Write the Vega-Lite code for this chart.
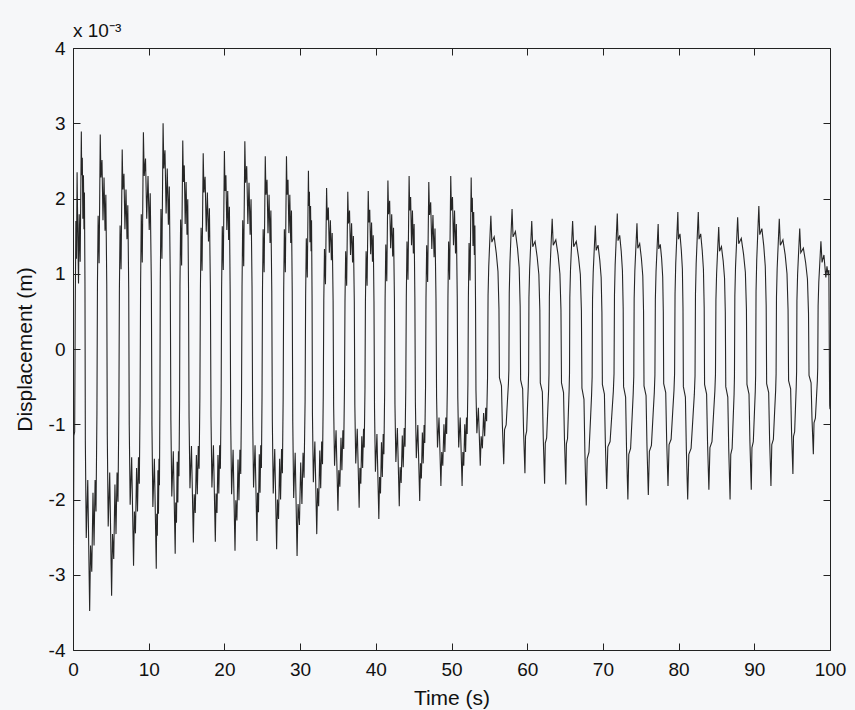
{
  "$schema": "https://vega.github.io/schema/vega-lite/v6.json",
  "width": 757,
  "height": 602,
  "autosize": {"type": "none"},
  "padding": {"left": 73, "top": 48, "right": 25, "bottom": 60},
  "background": "#f6f7f9",
  "title": {"text": "x 10⁻³", "anchor": "start", "frame": "group", "offset": -2, "fontSize": 19, "fontWeight": "normal", "font": "Liberation Sans", "color": "#111111"},
  "config": {
    "view": {"stroke": null},
    "axis": {"domainColor": "#222222", "domainWidth": 1, "tickColor": "#222222", "tickWidth": 1, "tickSize": -7, "grid": false, "labelFont": "Liberation Sans", "labelFontSize": 19, "labelColor": "#111111", "titleFont": "Liberation Sans", "titleFontSize": 21, "titleFontWeight": "normal", "titleColor": "#111111"}
  },
  "data": {"values": [
{"t":0,"d":1.6e-3},{"t":0.04,"d":-3.23e-3},{"t":0.12,"d":-1.15e-3},{"t":0.22,"d":-1.1e-3},{"t":0.3,"d":0.6e-3},{"t":0.38,"d":1.7e-3},{"t":0.46,"d":1.2e-3},{"t":0.54,"d":2.35e-3},{"t":0.62,"d":1.65e-3},
{"t":0.73,"d":0.87e-3},{"t":0.82,"d":1.79e-3},{"t":0.95,"d":1.16e-3},{"t":1.1,"d":2.89e-3},{"t":1.15,"d":2.31e-3},{"t":1.23,"d":2.54e-3},{"t":1.3,"d":1.73e-3},{"t":1.38,"d":2.31e-3},{"t":1.45,"d":1.59e-3},{"t":1.51,"d":2.08e-3},{"t":1.58,"d":0.87e-3},
{"t":1.63,"d":-1.22e-3},{"t":1.75,"d":-2.51e-3},{"t":1.95,"d":-1.74e-3},{"t":2.2,"d":-3.48e-3},{"t":2.32,"d":-2.61e-3},{"t":2.48,"d":-2.96e-3},{"t":2.64,"d":-1.91e-3},{"t":2.78,"d":-2.61e-3},{"t":2.92,"d":-1.74e-3},{"t":3.04,"d":-2.16e-3},{"t":3.16,"d":-0.87e-3},
{"t":3.23,"d":0.86e-3},{"t":3.32,"d":1.77e-3},{"t":3.45,"d":1.14e-3},{"t":3.6,"d":2.85e-3},{"t":3.69,"d":2.28e-3},{"t":3.83,"d":2.51e-3},{"t":3.96,"d":1.71e-3},{"t":4.1,"d":2.28e-3},{"t":4.23,"d":1.57e-3},{"t":4.34,"d":2.05e-3},{"t":4.46,"d":0.86e-3},
{"t":4.53,"d":-1.15e-3},{"t":4.65,"d":-2.36e-3},{"t":4.85,"d":-1.64e-3},{"t":5.1,"d":-3.28e-3},{"t":5.22,"d":-2.46e-3},{"t":5.38,"d":-2.79e-3},{"t":5.54,"d":-1.8e-3},{"t":5.68,"d":-2.46e-3},{"t":5.82,"d":-1.64e-3},{"t":5.94,"d":-2.03e-3},{"t":6.06,"d":-0.82e-3},
{"t":6.13,"d":0.8e-3},{"t":6.22,"d":1.64e-3},{"t":6.35,"d":1.06e-3},{"t":6.5,"d":2.65e-3},{"t":6.59,"d":2.12e-3},{"t":6.73,"d":2.33e-3},{"t":6.86,"d":1.59e-3},{"t":7.0,"d":2.12e-3},{"t":7.13,"d":1.46e-3},{"t":7.24,"d":1.91e-3},{"t":7.36,"d":0.8e-3},
{"t":7.43,"d":-1.01e-3},{"t":7.55,"d":-2.07e-3},{"t":7.75,"d":-1.44e-3},{"t":8.0,"d":-2.88e-3},{"t":8.11,"d":-2.16e-3},{"t":8.25,"d":-2.45e-3},{"t":8.4,"d":-1.58e-3},{"t":8.52,"d":-2.16e-3},{"t":8.65,"d":-1.44e-3},{"t":8.76,"d":-1.79e-3},{"t":8.86,"d":-0.72e-3},
{"t":8.93,"d":0.86e-3},{"t":9.02,"d":1.79e-3},{"t":9.15,"d":1.15e-3},{"t":9.3,"d":2.88e-3},{"t":9.41,"d":2.3e-3},{"t":9.58,"d":2.53e-3},{"t":9.74,"d":1.73e-3},{"t":9.91,"d":2.3e-3},{"t":10.07,"d":1.58e-3},{"t":10.2,"d":2.07e-3},{"t":10.35,"d":0.86e-3},
{"t":10.43,"d":-1.02e-3},{"t":10.55,"d":-2.1e-3},{"t":10.75,"d":-1.46e-3},{"t":11.0,"d":-2.92e-3},{"t":11.06,"d":-2.19e-3},{"t":11.14,"d":-2.48e-3},{"t":11.22,"d":-1.61e-3},{"t":11.29,"d":-2.19e-3},{"t":11.36,"d":-1.46e-3},{"t":11.42,"d":-1.81e-3},{"t":11.48,"d":-0.73e-3},
{"t":11.53,"d":0.9e-3},{"t":11.62,"d":1.86e-3},{"t":11.75,"d":1.2e-3},{"t":11.9,"d":3.0e-3},{"t":12.0,"d":2.4e-3},{"t":12.15,"d":2.64e-3},{"t":12.3,"d":1.8e-3},{"t":12.45,"d":2.4e-3},{"t":12.6,"d":1.65e-3},{"t":12.72,"d":2.16e-3},{"t":12.85,"d":0.9e-3},
{"t":12.93,"d":-0.95e-3},{"t":13.05,"d":-1.96e-3},{"t":13.25,"d":-1.36e-3},{"t":13.5,"d":-2.72e-3},{"t":13.57,"d":-2.04e-3},{"t":13.67,"d":-2.31e-3},{"t":13.76,"d":-1.5e-3},{"t":13.85,"d":-2.04e-3},{"t":13.93,"d":-1.36e-3},{"t":14.0,"d":-1.69e-3},{"t":14.08,"d":-0.68e-3},
{"t":14.13,"d":0.83e-3},{"t":14.22,"d":1.72e-3},{"t":14.35,"d":1.11e-3},{"t":14.5,"d":2.77e-3},{"t":14.58,"d":2.22e-3},{"t":14.7,"d":2.44e-3},{"t":14.82,"d":1.66e-3},{"t":14.94,"d":2.22e-3},{"t":15.06,"d":1.52e-3},{"t":15.16,"d":1.99e-3},{"t":15.26,"d":0.83e-3},
{"t":15.33,"d":-0.9e-3},{"t":15.45,"d":-1.85e-3},{"t":15.65,"d":-1.29e-3},{"t":15.9,"d":-2.57e-3},{"t":16.01,"d":-1.93e-3},{"t":16.15,"d":-2.18e-3},{"t":16.3,"d":-1.41e-3},{"t":16.42,"d":-1.93e-3},{"t":16.55,"d":-1.29e-3},{"t":16.66,"d":-1.59e-3},{"t":16.76,"d":-0.64e-3},
{"t":16.83,"d":0.78e-3},{"t":16.92,"d":1.61e-3},{"t":17.05,"d":1.04e-3},{"t":17.2,"d":2.6e-3},{"t":17.3,"d":2.08e-3},{"t":17.45,"d":2.29e-3},{"t":17.6,"d":1.56e-3},{"t":17.75,"d":2.08e-3},{"t":17.9,"d":1.43e-3},{"t":18.02,"d":1.87e-3},{"t":18.15,"d":0.78e-3},
{"t":18.23,"d":-0.9e-3},{"t":18.35,"d":-1.84e-3},{"t":18.55,"d":-1.28e-3},{"t":18.8,"d":-2.56e-3},{"t":18.9,"d":-1.92e-3},{"t":19.02,"d":-2.18e-3},{"t":19.15,"d":-1.41e-3},{"t":19.26,"d":-1.92e-3},{"t":19.38,"d":-1.28e-3},{"t":19.47,"d":-1.59e-3},{"t":19.57,"d":-0.64e-3},
{"t":19.63,"d":0.79e-3},{"t":19.72,"d":1.63e-3},{"t":19.85,"d":1.05e-3},{"t":20.0,"d":2.63e-3},{"t":20.08,"d":2.1e-3},{"t":20.2,"d":2.31e-3},{"t":20.32,"d":1.58e-3},{"t":20.44,"d":2.1e-3},{"t":20.56,"d":1.45e-3},{"t":20.66,"d":1.89e-3},{"t":20.76,"d":0.79e-3},
{"t":20.83,"d":-0.94e-3},{"t":20.95,"d":-1.93e-3},{"t":21.15,"d":-1.34e-3},{"t":21.4,"d":-2.68e-3},{"t":21.51,"d":-2.01e-3},{"t":21.65,"d":-2.28e-3},{"t":21.8,"d":-1.47e-3},{"t":21.92,"d":-2.01e-3},{"t":22.05,"d":-1.34e-3},{"t":22.16,"d":-1.66e-3},{"t":22.26,"d":-0.67e-3},
{"t":22.33,"d":0.83e-3},{"t":22.42,"d":1.71e-3},{"t":22.55,"d":1.1e-3},{"t":22.7,"d":2.76e-3},{"t":22.8,"d":2.21e-3},{"t":22.95,"d":2.43e-3},{"t":23.1,"d":1.66e-3},{"t":23.25,"d":2.21e-3},{"t":23.4,"d":1.52e-3},{"t":23.52,"d":1.99e-3},{"t":23.65,"d":0.83e-3},
{"t":23.73,"d":-0.89e-3},{"t":23.85,"d":-1.84e-3},{"t":24.05,"d":-1.28e-3},{"t":24.3,"d":-2.55e-3},{"t":24.38,"d":-1.91e-3},{"t":24.5,"d":-2.17e-3},{"t":24.61,"d":-1.4e-3},{"t":24.71,"d":-1.91e-3},{"t":24.8,"d":-1.28e-3},{"t":24.89,"d":-1.58e-3},{"t":24.97,"d":-0.64e-3},
{"t":25.03,"d":0.77e-3},{"t":25.12,"d":1.59e-3},{"t":25.25,"d":1.02e-3},{"t":25.4,"d":2.56e-3},{"t":25.49,"d":2.05e-3},{"t":25.63,"d":2.25e-3},{"t":25.76,"d":1.54e-3},{"t":25.9,"d":2.05e-3},{"t":26.03,"d":1.41e-3},{"t":26.14,"d":1.84e-3},{"t":26.26,"d":0.77e-3},
{"t":26.33,"d":-0.93e-3},{"t":26.45,"d":-1.92e-3},{"t":26.65,"d":-1.33e-3},{"t":26.9,"d":-2.66e-3},{"t":27.01,"d":-2.0e-3},{"t":27.15,"d":-2.26e-3},{"t":27.3,"d":-1.46e-3},{"t":27.42,"d":-2.0e-3},{"t":27.55,"d":-1.33e-3},{"t":27.66,"d":-1.65e-3},{"t":27.76,"d":-0.67e-3},
{"t":27.83,"d":0.77e-3},{"t":27.92,"d":1.59e-3},{"t":28.05,"d":1.02e-3},{"t":28.2,"d":2.56e-3},{"t":28.28,"d":2.05e-3},{"t":28.4,"d":2.25e-3},{"t":28.52,"d":1.54e-3},{"t":28.64,"d":2.05e-3},{"t":28.76,"d":1.41e-3},{"t":28.86,"d":1.84e-3},{"t":28.96,"d":0.77e-3},
{"t":29.03,"d":-0.96e-3},{"t":29.15,"d":-1.98e-3},{"t":29.35,"d":-1.38e-3},{"t":29.6,"d":-2.75e-3},{"t":29.73,"d":-2.06e-3},{"t":29.91,"d":-2.34e-3},{"t":30.08,"d":-1.51e-3},{"t":30.24,"d":-2.06e-3},{"t":30.39,"d":-1.38e-3},{"t":30.52,"d":-1.71e-3},{"t":30.66,"d":-0.69e-3},
{"t":30.73,"d":0.71e-3},{"t":30.82,"d":1.47e-3},{"t":30.95,"d":0.95e-3},{"t":31.1,"d":2.37e-3},{"t":31.15,"d":1.9e-3},{"t":31.23,"d":2.09e-3},{"t":31.3,"d":1.42e-3},{"t":31.38,"d":1.9e-3},{"t":31.45,"d":1.3e-3},{"t":31.51,"d":1.71e-3},{"t":31.58,"d":0.71e-3},
{"t":31.63,"d":-0.86e-3},{"t":31.75,"d":-1.77e-3},{"t":31.95,"d":-1.23e-3},{"t":32.2,"d":-2.46e-3},{"t":32.31,"d":-1.85e-3},{"t":32.45,"d":-2.09e-3},{"t":32.6,"d":-1.35e-3},{"t":32.72,"d":-1.85e-3},{"t":32.85,"d":-1.23e-3},{"t":32.96,"d":-1.53e-3},{"t":33.06,"d":-0.62e-3},
{"t":33.13,"d":0.64e-3},{"t":33.22,"d":1.33e-3},{"t":33.35,"d":0.86e-3},{"t":33.5,"d":2.14e-3},{"t":33.59,"d":1.71e-3},{"t":33.73,"d":1.88e-3},{"t":33.86,"d":1.28e-3},{"t":34.0,"d":1.71e-3},{"t":34.13,"d":1.18e-3},{"t":34.24,"d":1.54e-3},{"t":34.36,"d":0.64e-3},
{"t":34.43,"d":-0.75e-3},{"t":34.55,"d":-1.55e-3},{"t":34.75,"d":-1.08e-3},{"t":35.0,"d":-2.15e-3},{"t":35.11,"d":-1.61e-3},{"t":35.25,"d":-1.83e-3},{"t":35.4,"d":-1.18e-3},{"t":35.52,"d":-1.61e-3},{"t":35.65,"d":-1.08e-3},{"t":35.76,"d":-1.33e-3},{"t":35.86,"d":-0.54e-3},
{"t":35.93,"d":0.63e-3},{"t":36.02,"d":1.3e-3},{"t":36.15,"d":0.84e-3},{"t":36.3,"d":2.09e-3},{"t":36.39,"d":1.67e-3},{"t":36.53,"d":1.84e-3},{"t":36.66,"d":1.25e-3},{"t":36.8,"d":1.67e-3},{"t":36.93,"d":1.15e-3},{"t":37.04,"d":1.5e-3},{"t":37.16,"d":0.63e-3},
{"t":37.23,"d":-0.74e-3},{"t":37.35,"d":-1.52e-3},{"t":37.55,"d":-1.06e-3},{"t":37.8,"d":-2.11e-3},{"t":37.9,"d":-1.58e-3},{"t":38.02,"d":-1.79e-3},{"t":38.15,"d":-1.16e-3},{"t":38.26,"d":-1.58e-3},{"t":38.38,"d":-1.06e-3},{"t":38.47,"d":-1.31e-3},{"t":38.57,"d":-0.53e-3},
{"t":38.63,"d":0.63e-3},{"t":38.72,"d":1.3e-3},{"t":38.85,"d":0.84e-3},{"t":39.0,"d":2.1e-3},{"t":39.08,"d":1.68e-3},{"t":39.2,"d":1.85e-3},{"t":39.32,"d":1.26e-3},{"t":39.44,"d":1.68e-3},{"t":39.56,"d":1.16e-3},{"t":39.66,"d":1.51e-3},{"t":39.76,"d":0.63e-3},
{"t":39.83,"d":-0.79e-3},{"t":39.95,"d":-1.63e-3},{"t":40.15,"d":-1.13e-3},{"t":40.4,"d":-2.26e-3},{"t":40.5,"d":-1.7e-3},{"t":40.62,"d":-1.92e-3},{"t":40.75,"d":-1.24e-3},{"t":40.86,"d":-1.7e-3},{"t":40.98,"d":-1.13e-3},{"t":41.07,"d":-1.4e-3},{"t":41.17,"d":-0.57e-3},
{"t":41.23,"d":0.67e-3},{"t":41.32,"d":1.39e-3},{"t":41.45,"d":0.9e-3},{"t":41.6,"d":2.24e-3},{"t":41.69,"d":1.79e-3},{"t":41.83,"d":1.97e-3},{"t":41.96,"d":1.34e-3},{"t":42.1,"d":1.79e-3},{"t":42.23,"d":1.23e-3},{"t":42.34,"d":1.61e-3},{"t":42.46,"d":0.67e-3},
{"t":42.53,"d":-0.73e-3},{"t":42.65,"d":-1.5e-3},{"t":42.85,"d":-1.05e-3},{"t":43.1,"d":-2.09e-3},{"t":43.21,"d":-1.57e-3},{"t":43.35,"d":-1.78e-3},{"t":43.5,"d":-1.15e-3},{"t":43.62,"d":-1.57e-3},{"t":43.75,"d":-1.05e-3},{"t":43.86,"d":-1.3e-3},{"t":43.96,"d":-0.52e-3},
{"t":44.03,"d":0.69e-3},{"t":44.12,"d":1.43e-3},{"t":44.25,"d":0.92e-3},{"t":44.4,"d":2.3e-3},{"t":44.48,"d":1.84e-3},{"t":44.6,"d":2.02e-3},{"t":44.72,"d":1.38e-3},{"t":44.84,"d":1.84e-3},{"t":44.96,"d":1.27e-3},{"t":45.06,"d":1.66e-3},{"t":45.16,"d":0.69e-3},
{"t":45.23,"d":-0.71e-3},{"t":45.35,"d":-1.45e-3},{"t":45.55,"d":-1.01e-3},{"t":45.8,"d":-2.02e-3},{"t":45.9,"d":-1.52e-3},{"t":46.02,"d":-1.72e-3},{"t":46.15,"d":-1.11e-3},{"t":46.26,"d":-1.52e-3},{"t":46.38,"d":-1.01e-3},{"t":46.47,"d":-1.25e-3},{"t":46.57,"d":-0.51e-3},
{"t":46.63,"d":0.67e-3},{"t":46.72,"d":1.38e-3},{"t":46.85,"d":0.89e-3},{"t":47.0,"d":2.22e-3},{"t":47.1,"d":1.78e-3},{"t":47.25,"d":1.95e-3},{"t":47.4,"d":1.33e-3},{"t":47.55,"d":1.78e-3},{"t":47.7,"d":1.22e-3},{"t":47.82,"d":1.6e-3},{"t":47.95,"d":0.67e-3},
{"t":48.03,"d":-0.64e-3},{"t":48.15,"d":-1.31e-3},{"t":48.35,"d":-0.91e-3},{"t":48.6,"d":-1.82e-3},{"t":48.71,"d":-1.37e-3},{"t":48.85,"d":-1.55e-3},{"t":49.0,"d":-1.0e-3},{"t":49.12,"d":-1.37e-3},{"t":49.25,"d":-0.91e-3},{"t":49.36,"d":-1.13e-3},{"t":49.46,"d":-0.46e-3},
{"t":49.53,"d":0.69e-3},{"t":49.62,"d":1.43e-3},{"t":49.75,"d":0.92e-3},{"t":49.9,"d":2.3e-3},{"t":49.99,"d":1.84e-3},{"t":50.13,"d":2.02e-3},{"t":50.26,"d":1.38e-3},{"t":50.4,"d":1.84e-3},{"t":50.53,"d":1.27e-3},{"t":50.64,"d":1.66e-3},{"t":50.76,"d":0.69e-3},
{"t":50.83,"d":-0.64e-3},{"t":50.95,"d":-1.31e-3},{"t":51.15,"d":-0.91e-3},{"t":51.4,"d":-1.82e-3},{"t":51.5,"d":-1.37e-3},{"t":51.62,"d":-1.55e-3},{"t":51.75,"d":-1.0e-3},{"t":51.86,"d":-1.37e-3},{"t":51.98,"d":-0.91e-3},{"t":52.07,"d":-1.13e-3},{"t":52.17,"d":-0.46e-3},
{"t":52.23,"d":0.68e-3},{"t":52.32,"d":1.41e-3},{"t":52.45,"d":0.91e-3},{"t":52.6,"d":2.28e-3},{"t":52.66,"d":1.82e-3},{"t":52.75,"d":2.01e-3},{"t":52.84,"d":1.37e-3},{"t":52.93,"d":1.82e-3},{"t":53.02,"d":1.25e-3},{"t":53.09,"d":1.64e-3},{"t":53.17,"d":0.68e-3},
{"t":53.23,"d":-0.54e-3},{"t":53.35,"d":-1.12e-3},{"t":53.55,"d":-0.78e-3},{"t":53.8,"d":-1.55e-3},{"t":53.92,"d":-1.16e-3},{"t":54.08,"d":-1.32e-3},{"t":54.24,"d":-0.85e-3},{"t":54.38,"d":-1.16e-3},{"t":54.52,"d":-0.78e-3},{"t":54.64,"d":-0.96e-3},{"t":54.76,"d":-0.39e-3},
{"t":54.83,"d":0.71e-3},{"t":54.92,"d":1.1e-3},{"t":55.05,"d":1.42e-3},{"t":55.2,"d":1.77e-3},{"t":55.33,"d":1.42e-3},{"t":55.64,"d":1.49e-3},{"t":55.92,"d":1.27e-3},{"t":56.14,"d":1.03e-3},{"t":56.27,"d":0.53e-3},
{"t":56.33,"d":-0.38e-3},{"t":56.6,"d":-0.49e-3},{"t":56.72,"d":-1.01e-3},{"t":56.9,"d":-1.53e-3},{"t":57.01,"d":-1.07e-3},{"t":57.22,"d":-1.01e-3},{"t":57.39,"d":-0.69e-3},{"t":57.52,"d":-0.46e-3},{"t":57.58,"d":-0.28e-3},
{"t":57.63,"d":0.74e-3},{"t":57.72,"d":1.15e-3},{"t":57.85,"d":1.49e-3},{"t":58.0,"d":1.86e-3},{"t":58.13,"d":1.49e-3},{"t":58.44,"d":1.56e-3},{"t":58.72,"d":1.34e-3},{"t":58.94,"d":1.08e-3},{"t":59.07,"d":0.56e-3},
{"t":59.13,"d":-0.41e-3},{"t":59.4,"d":-0.53e-3},{"t":59.52,"d":-1.09e-3},{"t":59.7,"d":-1.65e-3},{"t":59.78,"d":-1.16e-3},{"t":59.93,"d":-1.09e-3},{"t":60.05,"d":-0.74e-3},{"t":60.14,"d":-0.5e-3},{"t":60.19,"d":-0.3e-3},
{"t":60.23,"d":0.68e-3},{"t":60.32,"d":1.05e-3},{"t":60.45,"d":1.36e-3},{"t":60.6,"d":1.7e-3},{"t":60.73,"d":1.36e-3},{"t":61.04,"d":1.43e-3},{"t":61.32,"d":1.22e-3},{"t":61.54,"d":0.99e-3},{"t":61.67,"d":0.51e-3},
{"t":61.73,"d":-0.45e-3},{"t":62.0,"d":-0.57e-3},{"t":62.12,"d":-1.18e-3},{"t":62.3,"d":-1.79e-3},{"t":62.39,"d":-1.25e-3},{"t":62.57,"d":-1.18e-3},{"t":62.72,"d":-0.81e-3},{"t":62.83,"d":-0.54e-3},{"t":62.88,"d":-0.32e-3},
{"t":62.93,"d":0.69e-3},{"t":63.02,"d":1.07e-3},{"t":63.15,"d":1.38e-3},{"t":63.3,"d":1.73e-3},{"t":63.44,"d":1.38e-3},{"t":63.78,"d":1.45e-3},{"t":64.08,"d":1.25e-3},{"t":64.32,"d":1.0e-3},{"t":64.46,"d":0.52e-3},
{"t":64.53,"d":-0.45e-3},{"t":64.8,"d":-0.58e-3},{"t":64.92,"d":-1.19e-3},{"t":65.1,"d":-1.8e-3},{"t":65.18,"d":-1.26e-3},{"t":65.33,"d":-1.19e-3},{"t":65.45,"d":-0.81e-3},{"t":65.54,"d":-0.54e-3},{"t":65.59,"d":-0.32e-3},
{"t":65.63,"d":0.68e-3},{"t":65.72,"d":1.05e-3},{"t":65.85,"d":1.36e-3},{"t":66.0,"d":1.7e-3},{"t":66.14,"d":1.36e-3},{"t":66.48,"d":1.43e-3},{"t":66.78,"d":1.22e-3},{"t":67.02,"d":0.99e-3},{"t":67.16,"d":0.51e-3},
{"t":67.23,"d":-0.52e-3},{"t":67.5,"d":-0.67e-3},{"t":67.62,"d":-1.37e-3},{"t":67.8,"d":-2.08e-3},{"t":67.92,"d":-1.46e-3},{"t":68.16,"d":-1.37e-3},{"t":68.36,"d":-0.94e-3},{"t":68.5,"d":-0.62e-3},{"t":68.58,"d":-0.37e-3},
{"t":68.63,"d":0.66e-3},{"t":68.72,"d":1.02e-3},{"t":68.85,"d":1.31e-3},{"t":69.0,"d":1.64e-3},{"t":69.11,"d":1.31e-3},{"t":69.36,"d":1.38e-3},{"t":69.59,"d":1.18e-3},{"t":69.77,"d":0.95e-3},{"t":69.87,"d":0.49e-3},
{"t":69.93,"d":-0.47e-3},{"t":70.2,"d":-0.6e-3},{"t":70.32,"d":-1.23e-3},{"t":70.5,"d":-1.86e-3},{"t":70.65,"d":-1.3e-3},{"t":70.95,"d":-1.23e-3},{"t":71.2,"d":-0.84e-3},{"t":71.38,"d":-0.56e-3},{"t":71.47,"d":-0.33e-3},
{"t":71.53,"d":0.72e-3},{"t":71.62,"d":1.12e-3},{"t":71.75,"d":1.44e-3},{"t":71.9,"d":1.8e-3},{"t":72.0,"d":1.44e-3},{"t":72.22,"d":1.51e-3},{"t":72.42,"d":1.3e-3},{"t":72.58,"d":1.04e-3},{"t":72.68,"d":0.54e-3},
{"t":72.73,"d":-0.5e-3},{"t":73.0,"d":-0.64e-3},{"t":73.12,"d":-1.32e-3},{"t":73.3,"d":-2.0e-3},{"t":73.42,"d":-1.4e-3},{"t":73.66,"d":-1.32e-3},{"t":73.86,"d":-0.9e-3},{"t":74.0,"d":-0.6e-3},{"t":74.08,"d":-0.36e-3},
{"t":74.13,"d":0.67e-3},{"t":74.22,"d":1.04e-3},{"t":74.35,"d":1.34e-3},{"t":74.5,"d":1.67e-3},{"t":74.61,"d":1.34e-3},{"t":74.86,"d":1.4e-3},{"t":75.09,"d":1.2e-3},{"t":75.27,"d":0.97e-3},{"t":75.37,"d":0.5e-3},
{"t":75.43,"d":-0.49e-3},{"t":75.7,"d":-0.62e-3},{"t":75.82,"d":-1.28e-3},{"t":76.0,"d":-1.94e-3},{"t":76.14,"d":-1.36e-3},{"t":76.41,"d":-1.28e-3},{"t":76.63,"d":-0.87e-3},{"t":76.79,"d":-0.58e-3},{"t":76.87,"d":-0.35e-3},
{"t":76.93,"d":0.66e-3},{"t":77.02,"d":1.03e-3},{"t":77.15,"d":1.33e-3},{"t":77.3,"d":1.66e-3},{"t":77.38,"d":1.33e-3},{"t":77.58,"d":1.39e-3},{"t":77.76,"d":1.2e-3},{"t":77.9,"d":0.96e-3},{"t":77.98,"d":0.5e-3},
{"t":78.03,"d":-0.46e-3},{"t":78.3,"d":-0.58e-3},{"t":78.42,"d":-1.2e-3},{"t":78.6,"d":-1.82e-3},{"t":78.74,"d":-1.27e-3},{"t":79.01,"d":-1.2e-3},{"t":79.23,"d":-0.82e-3},{"t":79.39,"d":-0.55e-3},{"t":79.47,"d":-0.33e-3},
{"t":79.53,"d":0.73e-3},{"t":79.62,"d":1.13e-3},{"t":79.75,"d":1.46e-3},{"t":79.9,"d":1.82e-3},{"t":79.98,"d":1.46e-3},{"t":80.18,"d":1.53e-3},{"t":80.36,"d":1.31e-3},{"t":80.5,"d":1.06e-3},{"t":80.58,"d":0.55e-3},
{"t":80.63,"d":-0.5e-3},{"t":80.9,"d":-0.64e-3},{"t":81.02,"d":-1.32e-3},{"t":81.2,"d":-2.0e-3},{"t":81.35,"d":-1.4e-3},{"t":81.65,"d":-1.32e-3},{"t":81.9,"d":-0.9e-3},{"t":82.08,"d":-0.6e-3},{"t":82.17,"d":-0.36e-3},
{"t":82.23,"d":0.73e-3},{"t":82.32,"d":1.13e-3},{"t":82.45,"d":1.46e-3},{"t":82.6,"d":1.82e-3},{"t":82.7,"d":1.46e-3},{"t":82.92,"d":1.53e-3},{"t":83.12,"d":1.31e-3},{"t":83.28,"d":1.06e-3},{"t":83.38,"d":0.55e-3},
{"t":83.43,"d":-0.47e-3},{"t":83.7,"d":-0.6e-3},{"t":83.82,"d":-1.23e-3},{"t":84.0,"d":-1.87e-3},{"t":84.14,"d":-1.31e-3},{"t":84.41,"d":-1.23e-3},{"t":84.63,"d":-0.84e-3},{"t":84.79,"d":-0.56e-3},{"t":84.87,"d":-0.34e-3},
{"t":84.93,"d":0.65e-3},{"t":85.02,"d":1.0e-3},{"t":85.15,"d":1.3e-3},{"t":85.3,"d":1.62e-3},{"t":85.41,"d":1.3e-3},{"t":85.66,"d":1.36e-3},{"t":85.89,"d":1.17e-3},{"t":86.07,"d":0.94e-3},{"t":86.17,"d":0.49e-3},
{"t":86.23,"d":-0.5e-3},{"t":86.5,"d":-0.64e-3},{"t":86.62,"d":-1.32e-3},{"t":86.8,"d":-2.0e-3},{"t":86.89,"d":-1.4e-3},{"t":87.07,"d":-1.32e-3},{"t":87.22,"d":-0.9e-3},{"t":87.33,"d":-0.6e-3},{"t":87.38,"d":-0.36e-3},
{"t":87.43,"d":0.7e-3},{"t":87.52,"d":1.09e-3},{"t":87.65,"d":1.4e-3},{"t":87.8,"d":1.75e-3},{"t":87.94,"d":1.4e-3},{"t":88.28,"d":1.47e-3},{"t":88.58,"d":1.26e-3},{"t":88.82,"d":1.02e-3},{"t":88.96,"d":0.53e-3},
{"t":89.03,"d":-0.47e-3},{"t":89.3,"d":-0.6e-3},{"t":89.42,"d":-1.23e-3},{"t":89.6,"d":-1.87e-3},{"t":89.69,"d":-1.31e-3},{"t":89.87,"d":-1.23e-3},{"t":90.02,"d":-0.84e-3},{"t":90.13,"d":-0.56e-3},{"t":90.18,"d":-0.34e-3},
{"t":90.23,"d":0.76e-3},{"t":90.32,"d":1.18e-3},{"t":90.45,"d":1.52e-3},{"t":90.6,"d":1.9e-3},{"t":90.72,"d":1.52e-3},{"t":91.0,"d":1.6e-3},{"t":91.25,"d":1.37e-3},{"t":91.45,"d":1.1e-3},{"t":91.57,"d":0.57e-3},
{"t":91.63,"d":-0.46e-3},{"t":91.9,"d":-0.58e-3},{"t":92.02,"d":-1.2e-3},{"t":92.2,"d":-1.82e-3},{"t":92.31,"d":-1.27e-3},{"t":92.52,"d":-1.2e-3},{"t":92.69,"d":-0.82e-3},{"t":92.82,"d":-0.55e-3},{"t":92.88,"d":-0.33e-3},
{"t":92.93,"d":0.69e-3},{"t":93.02,"d":1.07e-3},{"t":93.15,"d":1.38e-3},{"t":93.3,"d":1.73e-3},{"t":93.44,"d":1.38e-3},{"t":93.78,"d":1.45e-3},{"t":94.08,"d":1.25e-3},{"t":94.32,"d":1.0e-3},{"t":94.46,"d":0.52e-3},
{"t":94.53,"d":-0.42e-3},{"t":94.8,"d":-0.53e-3},{"t":94.92,"d":-1.1e-3},{"t":95.1,"d":-1.66e-3},{"t":95.18,"d":-1.16e-3},{"t":95.33,"d":-1.1e-3},{"t":95.45,"d":-0.75e-3},{"t":95.54,"d":-0.5e-3},{"t":95.59,"d":-0.3e-3},
{"t":95.63,"d":0.64e-3},{"t":95.72,"d":0.99e-3},{"t":95.85,"d":1.28e-3},{"t":96.0,"d":1.6e-3},{"t":96.14,"d":1.28e-3},{"t":96.48,"d":1.34e-3},{"t":96.78,"d":1.15e-3},{"t":97.02,"d":0.93e-3},{"t":97.16,"d":0.48e-3},
{"t":97.23,"d":-0.35e-3},{"t":97.5,"d":-0.45e-3},{"t":97.62,"d":-0.92e-3},{"t":97.8,"d":-1.4e-3},{"t":97.89,"d":-0.98e-3},{"t":98.07,"d":-0.92e-3},{"t":98.22,"d":-0.63e-3},{"t":98.33,"d":-0.42e-3},{"t":98.38,"d":-0.25e-3},
{"t":98.43,"d":0.57e-3},{"t":98.52,"d":0.89e-3},{"t":98.65,"d":1.14e-3},{"t":98.8,"d":1.43e-3},{"t":98.95,"d":1.15e-3},{"t":99.2,"d":1.25e-3},{"t":99.45,"d":0.95e-3},{"t":99.6,"d":1.1e-3},{"t":99.75,"d":0.98e-3},{"t":99.85,"d":1.05e-3},{"t":99.92,"d":-0.2e-3},{"t":99.96,"d":-0.75e-3},{"t":100,"d":-0.8e-3}
  ]},
  "layer": [
    {
      "mark": {"type": "line", "color": "#262626", "strokeWidth": 1.1, "clip": true},
      "encoding": {
        "x": {"field": "t", "type": "quantitative", "scale": {"domain": [0, 100], "nice": false, "zero": false},
              "axis": {"values": [0,10,20,30,40,50,60,70,80,90,100], "title": "Time (s)", "labelPadding": 17, "titlePadding": 8, "labelFlush": false, "labelOverlap": false}},
        "y": {"field": "d", "type": "quantitative", "scale": {"domain": [-0.004, 0.004], "nice": false, "zero": false},
              "axis": {"values": [-0.004,-0.003,-0.002,-0.001,0,0.001,0.002,0.003,0.004], "labelExpr": "toString(round(datum.value*1000))", "title": "Displacement (m)", "labelPadding": 15, "titlePadding": 13, "labelFlush": false, "labelOverlap": false}}
      }
    },
    {
      "transform": [{"filter": "datum.t == 0"}],
      "mark": {"type": "point", "opacity": 0},
      "encoding": {
        "x": {"field": "t", "type": "quantitative", "axis": {"orient": "top", "values": [0,10,20,30,40,50,60,70,80,90,100], "labels": false, "title": null}},
        "y": {"field": "d", "type": "quantitative", "axis": {"orient": "right", "values": [-0.004,-0.003,-0.002,-0.001,0,0.001,0.002,0.003,0.004], "labels": false, "title": null}}
      }
    }
  ],
  "resolve": {"axis": {"x": "independent", "y": "independent"}}
}
